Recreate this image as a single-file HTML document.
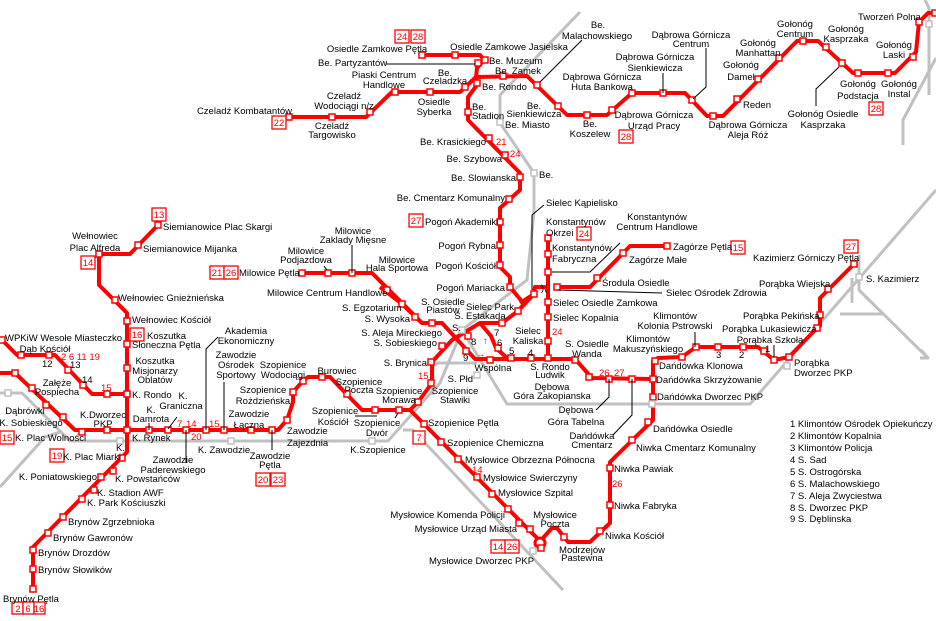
<!DOCTYPE html>
<html><head><meta charset="utf-8"><style>
html,body{margin:0;padding:0;background:#fff;}
svg{display:block;}
text{font-family:"Liberation Sans",sans-serif;font-size:9.5px;fill:#000;}
.c{text-anchor:middle}.e{text-anchor:end}
.r{fill:#f00}
.g{fill:none;stroke:#c0c0c0;stroke-width:3;stroke-linejoin:round}
.l{fill:none;stroke:#f00;stroke-width:4;stroke-linejoin:round}
.k{fill:none;stroke:#000;stroke-width:1}
.bx{fill:#fff;stroke:#f00;stroke-width:1.3}
</style></head><body>
<svg width="936" height="621" viewBox="0 0 936 621" xmlns="http://www.w3.org/2000/svg">
<defs>
<rect id="n" x="-3" y="-3" width="6" height="6" fill="#fff" stroke="#f00" stroke-width="1.5"/>
<rect id="m" x="-3" y="-3" width="6" height="6" fill="#fff" stroke="#c0c0c0" stroke-width="1.5"/>
</defs>
<path class="g" d="M0,393 L22,393 L70,441 L388,441 L420,405 L440,383 L462,330 L527,280 L534,212 L534,173 L500,123 L500,95 L580,12"/>
<path class="g" d="M0,487 L45,437 L60,432"/>
<path class="g" d="M462,330 L507,404 L750,404 L936,190"/>
<path class="g" d="M403,430 L413,430 L563,590"/>
<path class="g" d="M433,395 L433,363 L477,363"/>
<path class="g" d="M859,255 L859,290 L928,358"/>
<path class="g" d="M921,350 L928,358 L920,358"/>
<path class="g" d="M852,278 L852,303 M840,314 L883,314"/>
<path class="g" d="M925,0 L929,8 L929,95 M936,58 L903,120 L903,145"/>
<path class="l" d="M289,117 L366,117 L392,92 L460,92 L476,77 L527,76 L567,115 L607,115 L632,93 L685,93 L707,116 L723,116 L797,41 L818,41 L853,73 L895,73 L916,52 L919,22 L928,13 L936,13"/>
<path class="l" d="M422,55 L480,55 L484,60 L477,68 L476,77 L477,85 L468,97 L468,120 L520,173 L520,190 L500,208 L500,267 L510,277 L510,287 L524,304 L518,311"/>
<path class="l" d="M520,303 L534,294 L535,287 L545,287"/>
<path class="l" d="M557,287 L590,287 L630,246 L667,246"/>
<path class="l" d="M548,238 L548,358"/>
<path class="l" d="M534,294 L518,311 L502,323 L480,323 L452,340 L432,362 L432,383 L418,402 L410,410 L362,410 L330,377 L308,377 L303,381 L293,392 L293,402 L287,420 L278,430 L75,430 L15,373 L0,373"/>
<path class="l" d="M480,323 L491,336 L496,348 L507,358"/>
<path class="l" d="M302,273 L372,273 L422,323 L442,323 L475,359 L575,359 L592,378 L653,379"/>
<path class="l" d="M380,287 L402,304 L422,323"/>
<path class="l" d="M653,360 L653,420 L610,462 L610,523 L590,542 L568,542 L557,528 L552,528 L543,538"/>
<circle cx="540" cy="543" r="5" fill="none" stroke="#f00" stroke-width="3"/>
<path class="l" d="M537,538 L410,410"/>
<path class="l" d="M653,361 L658,358 L682,357 L696,347 L758,347 L774,360 L789,357 L817,328 L820,326 L820,298 L854,264"/>
<path class="l" d="M0,338 L17,355 L55,355 L92,394 L127,394"/>
<path class="l" d="M158,225 L130,254 L99,254 L99,285 L127,313 L127,452 L33,547 L33,589"/>
<g>
<use href="#n" x="289" y="117"/><use href="#n" x="332" y="117"/><use href="#n" x="370" y="112"/><use href="#n" x="395" y="92"/><use href="#n" x="430" y="92"/><use href="#n" x="465" y="87"/>
<use href="#n" x="422" y="55"/><use href="#n" x="455" y="55"/><use href="#n" x="478" y="63"/><use href="#n" x="485" y="60"/><use href="#n" x="503" y="76"/><use href="#n" x="477" y="83"/>
<use href="#n" x="468" y="112"/><use href="#n" x="489" y="138"/><use href="#n" x="505" y="155"/><use href="#n" x="520" y="177"/><use href="#n" x="509" y="199"/>
<use href="#n" x="500" y="222"/><use href="#n" x="500" y="245"/><use href="#n" x="500" y="265"/><use href="#n" x="510" y="287"/>
<use href="#n" x="537" y="85"/><use href="#n" x="558" y="106"/><use href="#n" x="587" y="115"/><use href="#n" x="612" y="110"/><use href="#n" x="632" y="93"/><use href="#n" x="663" y="93"/><use href="#n" x="692" y="100"/><use href="#n" x="713" y="116"/>
<use href="#n" x="737" y="99"/><use href="#n" x="758" y="79"/><use href="#n" x="779" y="58"/><use href="#n" x="803" y="41"/><use href="#n" x="826" y="47"/><use href="#n" x="842" y="63"/><use href="#n" x="858" y="73"/><use href="#n" x="888" y="73"/><use href="#n" x="913" y="57"/><use href="#n" x="919" y="22"/><use href="#n" x="935" y="13"/>
<use href="#n" x="548" y="238"/><use href="#n" x="548" y="254"/><use href="#n" x="548" y="272"/><use href="#n" x="548" y="302"/><use href="#n" x="548" y="317"/><use href="#n" x="548" y="341"/><use href="#n" x="548" y="358"/>
<use href="#n" x="557" y="287"/><use href="#n" x="597" y="278"/><use href="#n" x="623" y="253"/><use href="#n" x="667" y="246"/>
<use href="#n" x="534" y="294"/><use href="#n" x="518" y="311"/><use href="#n" x="502" y="323"/><use href="#n" x="468" y="336"/><use href="#n" x="466" y="351"/><use href="#n" x="498" y="348"/>
<use href="#n" x="490" y="360"/><use href="#n" x="511" y="358"/><use href="#n" x="531" y="358"/><use href="#n" x="575" y="360"/><use href="#n" x="589" y="377"/><use href="#n" x="609" y="379"/><use href="#n" x="632" y="379"/><use href="#n" x="653" y="379"/>
<use href="#n" x="655" y="361"/><use href="#n" x="653" y="397"/><use href="#n" x="648" y="422"/><use href="#n" x="632" y="440"/><use href="#n" x="610" y="468"/><use href="#n" x="610" y="505"/><use href="#n" x="600" y="531"/><use href="#n" x="564" y="537"/><use href="#n" x="541" y="548"/>
<use href="#n" x="682" y="357"/><use href="#n" x="696" y="347"/><use href="#n" x="718" y="347"/><use href="#n" x="743" y="347"/><use href="#n" x="764" y="351"/><use href="#n" x="774" y="360"/><use href="#n" x="789" y="357"/><use href="#n" x="817" y="328"/><use href="#n" x="820" y="315"/><use href="#n" x="828" y="289"/><use href="#n" x="854" y="264"/>
<use href="#n" x="530" y="529"/><use href="#n" x="519" y="523"/><use href="#n" x="508" y="509"/><use href="#n" x="492" y="494"/><use href="#n" x="477" y="477"/><use href="#n" x="458" y="459"/><use href="#n" x="441" y="442"/><use href="#n" x="424" y="424"/>
<use href="#n" x="418" y="402"/><use href="#n" x="431" y="383"/><use href="#n" x="431" y="362"/><use href="#n" x="442" y="346"/>
<use href="#n" x="399" y="410"/><use href="#n" x="375" y="410"/><use href="#n" x="347" y="394"/><use href="#n" x="322" y="377"/><use href="#n" x="303" y="381"/><use href="#n" x="293" y="392"/><use href="#n" x="287" y="420"/>
<use href="#n" x="272" y="430"/><use href="#n" x="251" y="430"/><use href="#n" x="224" y="430"/><use href="#n" x="206" y="430"/><use href="#n" x="186" y="430"/><use href="#n" x="168" y="430"/><use href="#n" x="149" y="430"/><use href="#n" x="127" y="430"/><use href="#n" x="107" y="430"/><use href="#n" x="82" y="432"/>
<use href="#n" x="63" y="417"/><use href="#n" x="46" y="405"/><use href="#n" x="32" y="388"/><use href="#n" x="15" y="373"/>
<use href="#n" x="2" y="340"/><use href="#n" x="21" y="355"/><use href="#n" x="49" y="355"/><use href="#n" x="68" y="370"/><use href="#n" x="83" y="385"/><use href="#n" x="107" y="394"/><use href="#n" x="127" y="394"/>
<use href="#n" x="127" y="321"/><use href="#n" x="127" y="344"/><use href="#n" x="127" y="368"/><use href="#n" x="115" y="300"/><use href="#n" x="99" y="254"/><use href="#n" x="138" y="245"/><use href="#n" x="158" y="225"/>
<use href="#n" x="122" y="458"/><use href="#n" x="113" y="471"/><use href="#n" x="101" y="477"/><use href="#n" x="94" y="490"/><use href="#n" x="82" y="499"/><use href="#n" x="63" y="517"/><use href="#n" x="48" y="533"/><use href="#n" x="33" y="550"/><use href="#n" x="33" y="569"/><use href="#n" x="33" y="589"/>
<use href="#n" x="302" y="273"/><use href="#n" x="328" y="273"/><use href="#n" x="352" y="273"/><use href="#n" x="387" y="290"/><use href="#n" x="402" y="304"/><use href="#n" x="415" y="317"/><use href="#n" x="432" y="323"/>
<use href="#m" x="462" y="330"/><use href="#m" x="477" y="375"/><use href="#m" x="372" y="441"/><use href="#m" x="120" y="441"/><use href="#m" x="231" y="441"/><use href="#m" x="8" y="393"/><use href="#m" x="533" y="551"/><use href="#m" x="652" y="404"/><use href="#m" x="787" y="366"/><use href="#m" x="859" y="277"/><use href="#m" x="500" y="122"/><use href="#m" x="534" y="173"/><use href="#m" x="929" y="24"/>
</g>
<path class="k" d="M386,64 L475,64 M582,40 L540,82 M706,48 L706,87 L693,99 M663,73 L663,93 M839,67 L816,89 L816,106 M544,205 L532,215 L532,290 M552,272 L590,272 L620,243 M558,290 L662,293 M695,332 L695,347 M774,345 L774,357 M596,410 L609,397 L609,379 M613,435 L632,415 L632,379 M352,245 L352,273 M324,266 L327,270 M218,337 L206,349 L206,430 M224,382 L224,430 M177,417 L168,429 M149,423 L149,430 M186,430 L186,463 M272,430 L272,450 M355,416 L377,416 M395,418 L398,413"/>
<text x="541" y="291" font-size="13">)(</text>
<g>
<rect class="bx" x="395" y="30" width="14" height="13"/><rect class="bx" x="411" y="30" width="14" height="13"/>
<rect class="bx" x="272" y="116" width="14" height="13"/><rect class="bx" x="619" y="130" width="14" height="13"/><rect class="bx" x="869" y="102" width="14" height="13"/>
<rect class="bx" x="409" y="214" width="14" height="13"/><rect class="bx" x="577" y="227" width="14" height="13"/><rect class="bx" x="731" y="241" width="14" height="13"/><rect class="bx" x="844" y="240" width="14" height="13"/>
<rect class="bx" x="152" y="208" width="14" height="13"/><rect class="bx" x="81" y="256" width="14" height="13"/><rect class="bx" x="210" y="266" width="14" height="13"/><rect class="bx" x="224" y="266" width="14" height="13"/>
<rect class="bx" x="130" y="328" width="14" height="13"/><rect class="bx" x="0" y="431" width="14" height="13"/><rect class="bx" x="50" y="449" width="14" height="13"/>
<rect class="bx" x="256" y="473" width="14" height="13"/><rect class="bx" x="271" y="473" width="14" height="13"/><rect class="bx" x="413" y="431" width="12" height="13"/>
<rect class="bx" x="491" y="540" width="14" height="13"/><rect class="bx" x="505" y="540" width="14" height="13"/>
<rect class="bx" x="12" y="602" width="11" height="12"/><rect class="bx" x="23" y="602" width="11" height="12"/><rect class="bx" x="34" y="602" width="11" height="12"/>
</g>
<g class="r" style="font-size:10.5px">
<text class="r c" x="402" y="40">24</text><text class="r c" x="418" y="40">28</text><text class="r c" x="279" y="126">22</text><text class="r c" x="626" y="140">28</text><text class="r c" x="876" y="112">28</text>
<text class="r c" x="416" y="224">27</text><text class="r c" x="584" y="237">24</text><text class="r c" x="738" y="251">15</text><text class="r c" x="851" y="250">27</text>
<text class="r c" x="159" y="218">13</text><text class="r c" x="88" y="266">14</text><text class="r c" x="217" y="276">21</text><text class="r c" x="231" y="276">26</text>
<text class="r c" x="137" y="338">16</text><text class="r c" x="7" y="441">15</text><text class="r c" x="57" y="459">19</text>
<text class="r c" x="263" y="483">20</text><text class="r c" x="278" y="483">23</text><text class="r c" x="419" y="441">7</text>
<text class="r c" x="498" y="550">14</text><text class="r c" x="512" y="550">26</text>
<text class="r c" x="18" y="612" font-size="10">2</text><text class="r c" x="28" y="612" font-size="10">6</text><text class="r c" x="39" y="612" font-size="10">16</text>
<text class="r" x="496" y="145">21</text><text class="r" x="510" y="157">24</text><text class="r" x="552" y="335">24</text><text class="r" x="599" y="376">26</text><text class="r" x="614" y="376">27</text>
<text class="r" x="612" y="487">26</text><text class="r" x="472" y="473">14</text><text class="r" x="418" y="379">15</text>
<text class="r" x="61" y="360">2  6  11 19</text><text class="r" x="101" y="391">15</text>
<text class="r" x="177" y="427">7</text><text class="r" x="186" y="427">14</text><text class="r" x="209" y="427">15</text><text class="r" x="191" y="440">20</text>
<text class="r" x="483" y="344">↑</text><text class="r" x="476" y="357">→</text>
</g>
<g>
<text x="858" y="20">Tworzeń Polna</text>
<text class="c" x="795" y="27">Gołonóg</text><text class="c" x="795" y="37">Centrum</text>
<text class="c" x="846" y="32">Gołonóg</text><text class="c" x="846" y="42">Kasprzaka</text>
<text class="c" x="894" y="48">Gołonóg</text><text class="c" x="894" y="58">Laski</text>
<text class="c" x="758" y="46">Gołonóg</text><text class="c" x="758" y="56">Manhattan</text>
<text class="c" x="741" y="68">Gołonóg</text><text class="c" x="741" y="80">Damel</text>
<text x="743" y="108">Reden</text>
<text class="c" x="858" y="87">Gołonóg</text><text class="c" x="858" y="99">Podstacja</text>
<text class="c" x="899" y="87">Gołonóg</text><text class="c" x="899" y="97">Instal</text>
<text class="c" x="823" y="117">Gołonóg Osiedle</text><text class="c" x="823" y="128">Kasprzaka</text>
<text class="c" x="748" y="128">Dąbrowa Górnicza</text><text class="c" x="748" y="138">Aleja Róż</text>
<text class="c" x="691" y="38">Dąbrowa Górnicza</text><text class="c" x="691" y="47">Centrum</text>
<text class="c" x="655" y="60">Dąbrowa Górnicza</text><text class="c" x="655" y="71">Sienkiewicza</text>
<text class="c" x="602" y="80">Dąbrowa Górnicza</text><text class="c" x="602" y="90">Huta Bankowa</text>
<text class="c" x="654" y="118">Dąbrowa Górnicza</text><text class="c" x="654" y="129">Urząd Pracy</text>
<text class="c" x="590" y="127">Be.</text><text class="c" x="590" y="137">Koszelew</text>
<text class="c" x="598" y="28">Be.</text><text class="c" x="597" y="39">Malachowskiego</text>
<text class="c" x="377" y="52">Osiedle Zamkowe Pętla</text>
<text class="c" x="509" y="50">Osiedle Zamkowe Jasielska</text>
<text x="318" y="66">Be. Partyzantów</text>
<text x="489" y="64">Be. Muzeum</text>
<text class="c" x="518" y="74">Be. Zamek</text>
<text class="c" x="384" y="78">Piaski Centrum</text><text class="c" x="384" y="88">Handlowe</text>
<text class="c" x="445" y="76">Be.</text><text class="c" x="445" y="84">Czeladzka</text>
<text x="482" y="90">Be. Rondo</text>
<text class="c" x="344" y="99">Czeladź</text><text class="c" x="344" y="109">Wodociągi n/z</text>
<text class="c" x="434" y="105">Osiedle</text><text class="c" x="434" y="115">Syberka</text>
<text x="472" y="110">Be.</text><text x="472" y="119">Stadion</text>
<text class="c" x="534" y="109">Be.</text><text class="c" x="534" y="117">Sienkiewicza</text>
<text x="505" y="128">Be. Miasto</text>
<text class="e" x="292" y="114">Czeladź Kombatantów</text>
<text class="c" x="332" y="129">Czeladź</text><text class="c" x="332" y="138">Targowisko</text>
<text class="e" x="486" y="145">Be. Krasickiego</text>
<text class="e" x="502" y="162">Be. Szybowa</text>
<text class="e" x="516" y="181">Be. Slowianska</text>
<text x="539" y="178">Be.</text>
<text class="e" x="505" y="201">Be. Cmentarz Komunalny</text>
<text x="425" y="225">Pogoń Akademiki</text>
<text class="e" x="496" y="249">Pogoń Rybna</text>
<text class="e" x="496" y="269">Pogoń Kościół</text>
<text class="e" x="505" y="291">Pogoń Mariacka</text>
<text x="546" y="206">Sielec Kąpielisko</text>
<text x="546" y="225">Konstantynów</text><text x="546" y="236">Okrzei</text>
<text x="552" y="251">Konstantynów</text><text x="552" y="262">Fabryczna</text>
<text class="c" x="657" y="220">Konstantynów</text><text class="c" x="657" y="230">Centrum Handlowe</text>
<text x="673" y="250">Zagórze Pętla</text>
<text x="629" y="263">Zagórze Małe</text>
<text x="602" y="286">Środula Osiedle</text>
<text x="666" y="296">Sielec Ośrodek Zdrowia</text>
<text x="553" y="306">Sielec Osiedle Zamkowa</text>
<text x="553" y="321">Sielec Kopalnia</text>
<text class="c" x="528" y="334">Sielec</text><text class="c" x="528" y="344">Kaliska</text>
<text x="528" y="356">4</text><text x="509" y="354">5</text><text x="497" y="346">6</text><text x="494" y="336">7</text><text x="471" y="345">8</text><text x="463" y="361">9</text>
<text class="c" x="587" y="347">S. Osiedle</text><text class="c" x="587" y="357">Wanda</text>
<text class="c" x="550" y="370">S. Rondo</text><text class="c" x="550" y="378">Ludwik</text>
<text class="c" x="552" y="390">Dębowa</text><text class="c" x="552" y="399">Góra Zakopianska</text>
<text class="c" x="576" y="413">Dębowa</text><text class="c" x="576" y="425">Góra Tabelna</text>
<text class="c" x="592" y="439">Dańdówka</text><text class="c" x="592" y="448">Cmentarz</text>
<text class="c" x="675" y="319">Klimontów</text><text class="c" x="675" y="329">Kolonia Pstrowski</text>
<text class="c" x="648" y="342">Klimontów</text><text class="c" x="648" y="352">Makuszyńskiego</text>
<text x="659" y="369">Dańdówka Klonowa</text>
<text x="656" y="383">Dańdówka Skrzyżowanie</text>
<text class="c" x="770" y="343">Porąbka Szkoła</text>
<text x="765" y="352">1</text><text x="716" y="358">3</text><text x="739" y="358">2</text>
<text x="722" y="332">Porąbka Lukasiewicza</text>
<text x="743" y="319">Porąbka Pekińska</text>
<text x="759" y="287">Porąbka Wiejska</text>
<text x="753" y="261">Kazimierz Górniczy Pętla</text>
<text x="866" y="282">S. Kazimierz</text>
<text x="794" y="366">Porąbka</text><text x="794" y="376">Dworzec PKP</text>
<text x="657" y="400">Dańdówka Dworzec PKP</text>
<text x="653" y="432">Dańdówka Osiedle</text>
<text x="636" y="451">Niwka Cmentarz Komunalny</text>
<text x="614" y="472">Niwka Pawiak</text>
<text x="614" y="509">Niwka Fabryka</text>
<text x="605" y="539">Niwka Kościół</text>
<text x="790" y="427">1 Klimontów Ośrodek Opiekuńczy</text>
<text x="790" y="439">2 Klimontów Kopalnia</text>
<text x="790" y="451">3 Klimontów Policja</text>
<text x="790" y="463">4 S. Sad</text>
<text x="790" y="475">5 S. Ostrogórska</text>
<text x="790" y="487">6 S. Malachowskiego</text>
<text x="790" y="499">7 S. Aleja Zwyciestwa</text>
<text x="790" y="511">8 S. Dworzec PKP</text>
<text x="790" y="522">9 S. Dęblinska</text>
<text class="c" x="455" y="394">Szopienice</text><text class="c" x="455" y="403">Stawiki</text>
<text x="428" y="426">Szopienice Pętla</text>
<text x="447" y="446">Szopienice Chemiczna</text>
<text x="465" y="463">Mysłowice Obrzezna Północna</text>
<text x="483" y="481">Mysłowice Swierczyny</text>
<text x="498" y="496">Mysłowice Szpital</text>
<text class="e" x="505" y="518">Mysłowice Komenda Policji</text>
<text class="e" x="517" y="532">Mysłowice Urząd Miasta</text>
<text class="c" x="555" y="518">Mysłowice</text><text class="c" x="555" y="527">Poczta</text>
<text x="429" y="564">Mysłowice Dworzec PKP</text>
<text class="c" x="582" y="553">Modrzejów</text><text class="c" x="582" y="561">Pastewna</text>
<text class="c" x="283" y="368">Szopienice</text><text class="c" x="283" y="378">Wodociągi</text>
<text class="c" x="337" y="374">Burowiec</text>
<text class="c" x="359" y="385">Szopienice</text><text class="c" x="359" y="393">Poczta</text>
<text class="c" x="399" y="394">Szopienice</text><text class="c" x="399" y="403">Morawa</text>
<text class="e" x="427" y="366">S. Brynica</text>
<text class="c" x="335" y="414">Szopienice</text><text class="c" x="333" y="425">Kościół</text>
<text class="c" x="377" y="426">Szopienice</text><text class="c" x="377" y="436">Dwór</text>
<text class="c" x="378" y="453">K.Szopienice</text>
<text x="287" y="434">Zawodzie</text><text x="287" y="446">Zajezdnia</text>
<text class="c" x="263" y="393">Szopienice</text><text class="c" x="263" y="404">Rożdzieńska</text>
<text class="c" x="249" y="417">Zawodzie</text><text class="c" x="249" y="428">Łączna</text>
<text class="c" x="270" y="459">Zawodzie</text><text class="c" x="270" y="468">Pętla</text>
<text class="c" x="224" y="453">K. Zawodzie</text>
<text class="c" x="173" y="463">Zawodzie</text><text class="c" x="173" y="473">Paderewskiego</text>
<text class="c" x="246" y="334">Akademia</text><text class="c" x="246" y="344">Ekonomiczny</text>
<text class="c" x="236" y="358">Zawodzie</text><text class="c" x="236" y="368">Ośrodek</text><text class="c" x="236" y="378">Sportowy</text>
<text class="c" x="183" y="399">K.</text><text class="c" x="181" y="409">Graniczna</text>
<text class="c" x="151" y="413">K.</text><text class="c" x="151" y="422">Damrota</text>
<text class="c" x="103" y="418">K.Dworzec</text><text class="c" x="103" y="427">PKP</text>
<text x="132" y="398">K. Rondo</text>
<text class="c" x="155" y="364">Koszutka</text><text class="c" x="155" y="374">Misjonarzy</text><text class="c" x="155" y="383">Oblatów</text>
<text x="147" y="339">Koszutka</text><text x="132" y="348">Słoneczna  Pętla</text>
<text x="132" y="323">Wełnowiec Kościół</text>
<text x="5" y="341">WPKiW Wesołe Miasteczko</text>
<text class="c" x="45" y="352">Dąb Kościół</text>
<text x="42" y="367">12</text><text x="70" y="368">13</text><text x="82" y="383">14</text>
<text class="c" x="57" y="386">Załęże</text><text class="c" x="57" y="395">Pospiecha</text>
<text class="c" x="25" y="414">Dąbrówki</text><text class="c" x="31" y="426">K. Sobieskiego</text>
<text x="15" y="441">K. Plac Wolności</text>
<text x="132" y="441">K. Rynek</text>
<text x="116" y="451">K.</text>
<text x="63" y="460">K. Plac Miarki</text>
<text class="e" x="97" y="480">K. Poniatowskiego</text>
<text x="115" y="482">K. Powstańców</text>
<text x="97" y="496">K. Stadion AWF</text>
<text x="87" y="506">K. Park Kościuszki</text>
<text x="68" y="525">Brynów Zgrzebnioka</text>
<text x="53" y="541">Brynów Gawronów</text>
<text x="38" y="556">Brynów Drozdów</text>
<text x="38" y="573">Brynów Słowików</text>
<text class="c" x="31" y="602">Brynów Pętla</text>
<text x="163" y="230">Siemianowice Plac Skargi</text>
<text x="143" y="252">Siemianowice Mijanka</text>
<text class="c" x="95" y="239">Wełnowiec</text><text class="c" x="95" y="251">Plac Alfreda</text>
<text x="118" y="301">Wełnowiec Gnieżnieńska</text>
<text x="239" y="276">Milowice Pętla</text>
<text class="c" x="306" y="254">Milowice</text><text class="c" x="306" y="263">Podjazdowa</text>
<text class="c" x="353" y="234">Milowice</text><text class="c" x="353" y="243">Zaklady Mięsne</text>
<text class="c" x="397" y="263">Milowice</text><text class="c" x="397" y="271">Hala Sportowa</text>
<text x="267" y="296">Milowice Centrum Handlowe</text>
<text x="342" y="311">S. Egzotarium</text>
<text class="e" x="410" y="322">S. Wysoka</text>
<text class="c" x="443" y="305">S. Osiedle</text><text class="c" x="443" y="313">Piastów</text>
<text class="c" x="490" y="310">Sielec Park</text>
<text class="c" x="480" y="319">S. Estakada</text>
<text x="452" y="331">S.</text>
<text class="e" x="442" y="336">S. Aleja Mireckiego</text>
<text class="e" x="437" y="346">S. Sobieskiego</text>
<text class="c" x="493" y="371">Wspólna</text>
<text class="e" x="473" y="382">S. Płd</text>
</g>
</svg>
</body></html>
